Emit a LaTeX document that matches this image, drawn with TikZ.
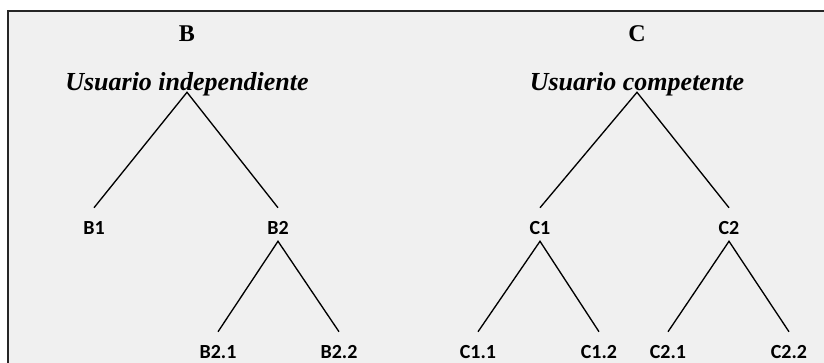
\documentclass[tikz,border=0pt]{standalone}
\usepackage{fontspec}
\setmainfont{Liberation Serif}
\newfontfamily\labelfont{Carlito}
\usepackage{xcolor}
\definecolor{panelgray}{HTML}{F0F0F0}
\usetikzlibrary{positioning}

\begin{document}
\begin{tikzpicture}[
  x=0.75pt,y=-0.75pt,
  grade/.style={font=\fontsize{18}{20}\selectfont\bfseries,anchor=base,inner sep=0pt},
  head/.style={font=\fontsize{19.5}{22}\selectfont\bfseries\itshape,anchor=base,inner sep=0pt,text depth=1.5pt},
  leaf/.style={font=\labelfont\fontsize{15}{17}\selectfont\bfseries,anchor=base,inner sep=0pt,text height=19.5pt,text depth=5.25pt},
  endleaf/.style={leaf,text depth=0pt},
  branch/.style={line width=1pt,line join=miter}]
\useasboundingbox (0,0) rectangle (824,362);
\filldraw[fill=panelgray,draw=black!85,line width=1.1pt] (8,11) rectangle (840,380);
\node[grade] (gB) at (187,41) {B};
\node[grade] (gC) at (637,41) {C};
\node[head] (indep) at (187,90) {Usuario independiente};
\node[head] (comp) at (637,90) {Usuario competente};
\node[leaf] (b1) at (94,234) {B1};
\node[leaf] (b2) at (278,234) {B2};
\node[endleaf] (b21) at (218,358) {B2.1};
\node[endleaf] (b22) at (339,358) {B2.2};
\node[leaf] (c1) at (540,234) {C1};
\node[leaf] (c2) at (729,234) {C2};
\node[endleaf] (c11) at (478,358) {C1.1};
\node[endleaf] (c12) at (599,358) {C1.2};
\node[endleaf] (c21) at (668,358) {C2.1};
\node[endleaf] (c22) at (789,358) {C2.2};
\draw[branch] (b1.north) -- (indep.south) -- (b2.north);
\draw[branch] (b21.north) -- (b2.south) -- (b22.north);
\draw[branch] (c1.north) -- (comp.south) -- (c2.north);
\draw[branch] (c11.north) -- (c1.south) -- (c12.north);
\draw[branch] (c21.north) -- (c2.south) -- (c22.north);
\end{tikzpicture}
\end{document}
